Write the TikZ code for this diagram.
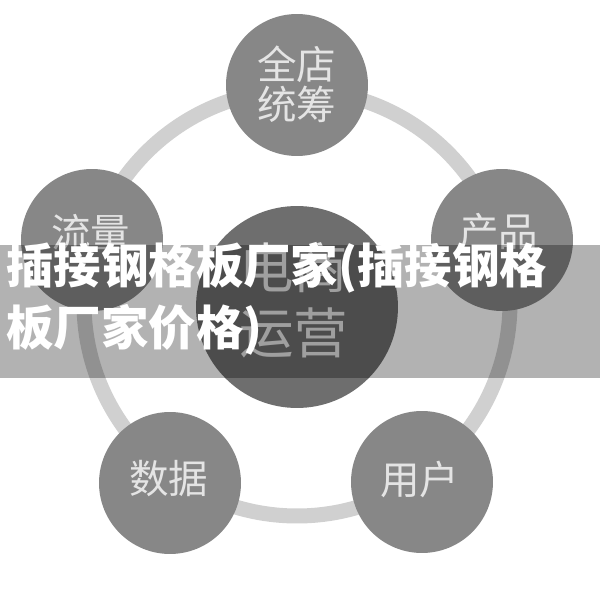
\documentclass[tikz,border=0pt]{standalone}
\usepackage{fontspec}
\newfontfamily\cjk{Noto Sans CJK SC}
\definecolor{ringgray}{HTML}{D0D0D0}
\definecolor{ballgray}{HTML}{878787}
\definecolor{hubgray}{HTML}{6E6E6E}
\definecolor{labelgray}{HTML}{E4E4E4}
\begin{document}
\begin{tikzpicture}[x=0.02cm,y=-0.02cm,
	ball/.style={circle,fill=ballgray,minimum size=2.84cm,inner sep=0pt},
	balltext/.style={text=labelgray,align=center,font=\cjk\fontsize{22.5}{23}\selectfont},
	hub/.style={circle,fill=hubgray,minimum size=4.04cm,inner sep=0pt}]
		\useasboundingbox[fill=white] (0,0) rectangle (600,595);
		% ring behind the balls
		\draw[ringgray,line width=0.3cm] (297,303) circle (213);
		\node[ball] (top) at (297,85) {};
		\node[ball] (left) at (92,240) {};
		\node[ball] (right) at (502,240) {};
		\node[ball] (botleft) at (170,483) {};
		\node[ball] (botright) at (422,482) {};
		\node[hub] (hub) at (297,307) {};
		\node[balltext] (toptext) at (297,84) {全店\\统筹};
		\node[balltext] (lefttext) at (91,232) {流量};
		\node[balltext] (righttext) at (499,232) {产品};
		\node[balltext] (botlefttext) at (169,479) {数据};
		\node[balltext] (botrighttext) at (420,479) {用户};
		\node[balltext,font=\cjk\fontsize{31}{37}\selectfont] (hubtext) at (294,300) {电商\\运营};
		% banner over everything
		\fill[black,opacity=0.3] (0,245) rectangle (600,378);
		\node[anchor=west,inner sep=0pt,align=left,text=white,font=\cjk\bfseries\fontsize{27}{35}\selectfont] (banner) at (6,299) {插接钢格板厂家(插接钢格\\板厂家价格)};
	\end{tikzpicture}
\end{document}
